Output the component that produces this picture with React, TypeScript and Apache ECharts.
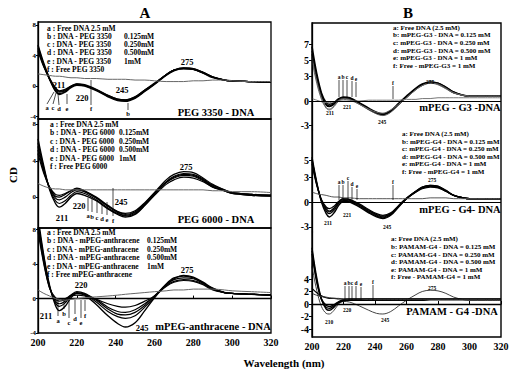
import React, { useEffect, useRef } from 'react';
import * as echarts from 'echarts';

const FONT = '"Liberation Serif", "Times New Roman", serif';

// shared wavelength grid (nm)
const wavelengths = [200, 203, 206, 209, 211, 214, 217, 220, 224, 230, 236, 241, 245, 250, 255, 260, 266, 270, 275, 280, 285, 290, 296, 300, 310, 320];

// Panel A1 : PEG 3350 - DNA
const a1_a = [5.4, 3.0, 1.0, -0.6, -1.0, -0.7, -0.1, 0.2, 0.1, -0.5, -1.3, -1.8, -1.9, -1.5, -0.6, 0.3, 1.5, 2.1, 2.4, 2.3, 1.8, 1.2, 0.8, 0.7, 0.6, 0.5];
const a1_b = [5.2, 2.8, 0.8, -0.7, -1.1, -0.8, -0.2, 0.1, 0.0, -0.6, -1.4, -1.9, -2.0, -1.6, -0.7, 0.2, 1.4, 2.0, 2.3, 2.2, 1.7, 1.1, 0.8, 0.7, 0.6, 0.5];
const a1_c = [5.0, 2.7, 0.9, -0.4, -0.8, -0.6, -0.1, 0.2, 0.1, -0.5, -1.3, -1.8, -1.9, -1.5, -0.6, 0.3, 1.5, 2.1, 2.4, 2.3, 1.8, 1.2, 0.8, 0.7, 0.6, 0.5];
const a1_d = [4.8, 2.6, 0.9, -0.3, -0.7, -0.5, 0.0, 0.3, 0.1, -0.5, -1.2, -1.7, -1.8, -1.4, -0.5, 0.3, 1.5, 2.1, 2.3, 2.2, 1.8, 1.2, 0.8, 0.7, 0.6, 0.5];
const a1_e = [4.6, 2.5, 1.0, -0.2, -0.6, -0.4, 0.0, 0.3, 0.2, -0.4, -1.2, -1.7, -1.8, -1.4, -0.5, 0.4, 1.5, 2.1, 2.3, 2.2, 1.7, 1.2, 0.8, 0.7, 0.6, 0.5];
const a1_f = [1.6, 1.5, 1.4, 1.3, 1.3, 1.2, 1.1, 1.1, 1.0, 1.0, 0.9, 0.9, 0.9, 0.8, 0.8, 0.7, 0.6, 0.6, 0.6, 0.7, 0.7, 0.8, 0.8, 0.7, 0.6, 0.6];

// Panel A2 : PEG 6000 - DNA
const a2_a = [6.4, 3.4, 0.8, -0.7, -1.1, -0.7, 0.0, 0.4, 0.2, -0.4, -1.3, -1.9, -2.2, -1.9, -0.9, 0.3, 1.6, 2.2, 2.5, 2.4, 1.9, 1.2, 0.7, 0.5, 0.3, 0.2];
const a2_b = [6.0, 3.2, 0.9, -0.4, -0.7, -0.4, 0.2, 0.6, 0.4, -0.3, -1.2, -1.8, -2.0, -1.7, -0.8, 0.4, 1.7, 2.3, 2.6, 2.5, 2.0, 1.3, 0.8, 0.5, 0.3, 0.2];
const a2_c = [5.6, 3.0, 1.0, -0.1, -0.3, 0.0, 0.5, 0.8, 0.6, -0.1, -1.0, -1.6, -1.9, -1.6, -0.7, 0.5, 1.9, 2.5, 2.8, 2.7, 2.1, 1.4, 0.8, 0.5, 0.3, 0.2];
const a2_d = [5.2, 2.8, 1.0, 0.1, 0.0, 0.3, 0.7, 1.0, 0.7, 0.0, -0.9, -1.6, -1.8, -1.5, -0.6, 0.5, 1.6, 2.1, 2.4, 2.3, 1.8, 1.1, 0.7, 0.4, 0.2, 0.1];
const a2_e = [4.8, 2.6, 1.1, 0.3, 0.2, 0.4, 0.7, 0.9, 0.6, -0.1, -1.0, -1.7, -2.1, -1.8, -0.9, 0.2, 1.4, 1.9, 2.2, 2.1, 1.7, 1.1, 0.7, 0.4, 0.2, 0.1];
const a2_f = [1.5, 1.2, 1.0, 0.9, 0.9, 0.8, 0.8, 0.8, 0.8, 0.8, 0.8, 0.8, 0.8, 0.8, 0.8, 0.8, 0.8, 0.8, 0.8, 0.8, 0.8, 0.7, 0.7, 0.6, 0.6, 0.5];

// Panel A3 : mPEG-anthracene - DNA
const a3_a = [9.5, 5.0, 1.5, -0.8, -1.4, -0.9, 0.1, 0.6, 0.4, -0.7, -2.0, -2.9, -3.3, -2.8, -1.4, 0.1, 1.6, 2.3, 2.7, 2.5, 1.9, 1.2, 0.7, 0.6, 0.5, 0.4];
const a3_b = [9.0, 4.8, 1.4, -0.5, -0.9, -0.5, 0.3, 0.7, 0.5, -0.4, -1.5, -2.1, -2.3, -2.0, -1.0, 0.2, 1.7, 2.4, 2.6, 2.4, 1.8, 1.2, 0.7, 0.6, 0.5, 0.4];
const a3_c = [8.6, 4.5, 1.3, -0.3, -0.6, -0.3, 0.4, 0.8, 0.6, -0.2, -1.2, -1.8, -1.9, -1.6, -0.8, 0.3, 1.6, 2.2, 2.4, 2.3, 1.8, 1.1, 0.7, 0.6, 0.5, 0.4];
const a3_d = [8.2, 4.2, 1.2, -0.1, -0.3, -0.1, 0.4, 0.6, 0.5, -0.1, -1.0, -1.5, -1.6, -1.3, -0.6, 0.3, 1.5, 2.0, 2.2, 2.1, 1.7, 1.1, 0.7, 0.6, 0.5, 0.4];
const a3_e = [7.8, 4.0, 1.2, 0.1, -0.1, 0.0, 0.3, 0.4, 0.3, -0.1, -0.6, -0.9, -1.0, -0.8, -0.3, 0.3, 1.4, 1.9, 2.1, 2.0, 1.6, 1.0, 0.7, 0.6, 0.5, 0.4];
const a3_f = [1.0, 0.6, 0.3, 0.0, -0.1, -0.2, -0.1, 0.0, 0.1, 0.2, 0.3, 0.4, 0.5, 0.6, 0.7, 0.8, 0.9, 1.0, 1.0, 1.1, 1.1, 1.1, 1.0, 0.9, 0.8, 0.7];

// Panel B1 : mPEG - G3 - DNA
const b1_a = [6.7, 3.4, 1.0, -0.2, -0.4, -0.2, 0.3, 0.5, 0.4, -0.2, -0.9, -1.4, -1.6, -1.2, -0.3, 0.6, 1.6, 2.1, 2.35, 2.2, 1.7, 1.1, 0.7, 0.6, 0.6, 0.6];
const b1_b = [6.2, 3.1, 0.8, -0.4, -0.6, -0.3, 0.2, 0.4, 0.3, -0.3, -1.0, -1.5, -1.7, -1.3, -0.4, 0.5, 1.5, 2.0, 2.3, 2.2, 1.7, 1.1, 0.7, 0.6, 0.6, 0.6];
const b1_c = [5.8, 2.8, 0.6, -0.5, -0.7, -0.4, 0.2, 0.4, 0.3, -0.3, -1.0, -1.5, -1.6, -1.2, -0.4, 0.5, 1.5, 2.0, 2.3, 2.1, 1.6, 1.0, 0.7, 0.6, 0.6, 0.6];
const b1_d = [5.4, 2.5, 0.4, -0.8, -1.0, -0.6, 0.1, 0.3, 0.2, -0.4, -1.1, -1.6, -1.8, -1.4, -0.5, 0.4, 1.4, 1.9, 2.2, 2.1, 1.6, 1.0, 0.7, 0.6, 0.6, 0.6];
const b1_e = [5.0, 2.2, 0.2, -0.9, -1.1, -0.7, 0.0, 0.2, 0.1, -0.4, -1.0, -1.4, -1.5, -1.1, -0.4, 0.4, 1.4, 1.9, 2.2, 2.0, 1.5, 1.0, 0.7, 0.6, 0.6, 0.6];
const b1_f = [0.3, 0.1, -0.1, -0.2, -0.2, -0.1, 0.0, 0.0, 0.0, 0.0, 0.1, 0.1, 0.1, 0.1, 0.1, 0.2, 0.2, 0.3, 0.3, 0.4, 0.4, 0.4, 0.4, 0.4, 0.4, 0.4];

// Panel B2 : mPEG - G4 - DNA
const b2_a = [5.4, 2.4, 0.0, -1.4, -1.8, -1.3, -0.4, 0.1, 0.0, -0.6, -1.3, -1.8, -2.0, -1.6, -0.6, 0.4, 1.3, 1.8, 2.0, 1.9, 1.4, 0.8, 0.5, 0.4, 0.4, 0.4];
const b2_b = [5.2, 2.3, 0.1, -1.1, -1.4, -1.0, -0.2, 0.2, 0.1, -0.5, -1.2, -1.7, -1.9, -1.5, -0.5, 0.4, 1.3, 1.8, 2.0, 1.9, 1.4, 0.8, 0.5, 0.4, 0.4, 0.4];
const b2_c = [5.0, 2.2, 0.2, -0.8, -1.1, -0.7, 0.0, 0.4, 0.3, -0.3, -1.0, -1.5, -1.7, -1.4, -0.5, 0.4, 1.2, 1.7, 1.9, 1.8, 1.3, 0.8, 0.5, 0.4, 0.4, 0.4];
const b2_d = [4.8, 2.1, 0.3, -0.6, -0.8, -0.5, 0.1, 0.4, 0.3, -0.2, -0.9, -1.4, -1.6, -1.3, -0.4, 0.5, 1.3, 1.7, 1.9, 1.8, 1.3, 0.8, 0.5, 0.4, 0.4, 0.4];
const b2_e = [4.6, 2.0, 0.2, -0.9, -1.2, -0.8, -0.1, 0.3, 0.2, -0.4, -1.1, -1.6, -1.8, -1.4, -0.5, 0.4, 1.2, 1.6, 1.8, 1.7, 1.3, 0.8, 0.5, 0.4, 0.4, 0.4];
const b2_f = [1.2, 1.0, 0.9, 0.8, 0.7, 0.6, 0.6, 0.5, 0.5, 0.4, 0.4, 0.4, 0.4, 0.4, 0.4, 0.4, 0.4, 0.4, 0.5, 0.5, 0.5, 0.4, 0.4, 0.4, 0.4, 0.4];

// Panel B3 : PAMAM - G4 - DNA
const b3_a = [6.0, 2.2, -0.4, -1.5, -1.6, -1.0, 0.0, 0.4, 0.3, -0.3, -1.0, -1.5, -1.6, -1.2, -0.3, 0.6, 1.5, 2.0, 2.2, 2.1, 1.7, 1.1, 0.7, 0.6, 0.6, 0.6];
const b3_b = [9.0, 4.2, 0.8, -0.8, -1.0, -0.5, 0.2, 0.5, 0.6, 0.6, 0.6, 0.6, 0.6, 0.6, 0.6, 0.6, 0.6, 0.6, 0.7, 0.7, 0.7, 0.7, 0.7, 0.7, 0.7, 0.7];
const b3_c = [8.5, 3.8, 0.7, -0.5, -0.7, -0.3, 0.3, 0.6, 0.7, 0.7, 0.7, 0.7, 0.7, 0.7, 0.7, 0.7, 0.7, 0.7, 0.7, 0.7, 0.7, 0.7, 0.7, 0.7, 0.7, 0.7];
const b3_d = [8.0, 3.5, 0.8, -0.2, -0.4, -0.1, 0.4, 0.7, 0.8, 0.8, 0.8, 0.8, 0.8, 0.8, 0.8, 0.8, 0.8, 0.8, 0.8, 0.8, 0.8, 0.8, 0.8, 0.8, 0.8, 0.8];
const b3_e = [2.5, 1.8, 1.3, 1.0, 0.9, 0.9, 0.8, 0.8, 0.8, 0.8, 0.8, 0.8, 0.8, 0.8, 0.8, 0.8, 0.8, 0.8, 0.8, 0.8, 0.8, 0.8, 0.8, 0.8, 0.8, 0.8];
const b3_f = [1.7, 1.4, 1.2, 1.1, 1.0, 0.9, 0.9, 0.8, 0.8, 0.8, 0.7, 0.7, 0.7, 0.7, 0.7, 0.7, 0.7, 0.7, 0.7, 0.7, 0.7, 0.7, 0.7, 0.7, 0.7, 0.7];

const xTicks = [200, 220, 240, 260, 280, 300, 320];
const yTicksA1 = [-4, 0, 4, 8];
const yTicksA2 = [0, 4, 8];
const yTicksA3 = [-4, 0, 4, 8];
const yTicksB1 = [-3, 0, 3, 5, 7];
const yTicksB2 = [-3, 0, 3, 5];
const yTicksB3 = [-4, -2, 0, 2, 4];

const legendA1 = [['a : Free DNA 2.5 mM', ''], ['b : DNA - PEG 3350', '0.125mM'], ['c : DNA - PEG 3350', '0.250mM'], ['d : DNA - PEG 3350', '0.500mM'], ['e : DNA - PEG 3350', '1mM'], ['f : Free PEG 3350', '']];
const legendA2 = [['a : Free DNA 2.5 mM', ''], ['b : DNA - PEG 6000', '0.125mM'], ['c : DNA - PEG 6000', '0.250mM'], ['d : DNA - PEG 6000', '0.500mM'], ['e : DNA - PEG 6000', '1mM'], ['f : Free PEG 6000', '']];
const legendA3 = [['a : Free DNA 2.5 mM', ''], ['b : DNA - mPEG-anthracene', '0.125mM'], ['c : DNA - mPEG-anthracene', '0.250mM'], ['d : DNA - mPEG-anthracene', '0.500mM'], ['e : DNA - mPEG-anthracene', '1mM'], ['f : Free mPEG-anthracene', '']];
const legendB1 = ['a: Free DNA (2.5 mM)', 'b: mPEG-G3 - DNA = 0.125 mM', 'c: mPEG-G3 - DNA = 0.250 mM', 'd: mPEG-G3 - DNA = 0.500 mM', 'e: mPEG-G3 - DNA = 1 mM', 'f: Free - mPEG-G3 = 1 mM'];
const legendB2 = ['a: Free DNA (2.5 mM)', 'b: mPEG-G4 - DNA = 0.125 mM', 'c: mPEG-G4 - DNA = 0.250 mM', 'd: mPEG-G4 - DNA = 0.500 mM', 'e: mPEG-G4 - DNA = 1 mM', 'f: Free - mPEG-G4 = 1 mM'];
const legendB3 = ['a: Free DNA (2.5 mM)', 'b: PAMAM-G4 - DNA = 0.125 mM', 'c: PAMAM-G4 - DNA = 0.250 mM', 'd: PAMAM-G4 - DNA = 0.500 mM', 'e: PAMAM-G4 - DNA = 1 mM', 'f: Free - PAMAM-G4 = 1 mM'];

const T = (text: string, x: number, y: number, size: number, align = 'center', extra: any = {}) => ({
  type: 'text', x, y, z: 10, ...extra,
  style: { text, fontSize: size, fontWeight: 'bold', fontFamily: FONT, fill: '#000', align, verticalAlign: 'middle' },
});
const L = (x1: number, y1: number, x2: number, y2: number, w = 0.7) => ({
  type: 'line', z: 10, shape: { x1, y1, x2, y2 }, style: { stroke: '#000', lineWidth: w },
});

function buildSeries(idx: number, sets: number[][], colors: string[], widths: number[], zero = false) {
  return sets.map((vals, k) => ({
    type: 'line', xAxisIndex: idx, yAxisIndex: idx, smooth: 0.35, symbol: 'none',
    lineStyle: { color: colors[k], width: widths[k] },
    data: wavelengths.map((w, i) => [w, vals[i]]),
    ...(zero && k === sets.length - 1
      ? { markLine: { silent: true, symbol: 'none', label: { show: false }, lineStyle: { color: '#000', width: 1, type: 'solid' }, data: [{ yAxis: 0 }] } }
      : {}),
  }));
}

export default function App() {
  const ref = useRef<HTMLDivElement>(null);
  useEffect(() => {
    const chart = echarts.init(ref.current!, null, { renderer: 'svg' });
    const A = { left: 38, width: 233 };
    const B = { left: 312, width: 189 };
    const grids = [
      { ...A, top: 22, height: 97, show: true, borderColor: '#000', borderWidth: 1.3 },
      { ...A, top: 119, height: 109, show: true, borderColor: '#000', borderWidth: 1.3 },
      { ...A, top: 228, height: 105, show: true, borderColor: '#000', borderWidth: 1.3 },
      { ...B, top: 23, height: 107 },
      { ...B, top: 130, height: 102 },
      { ...B, top: 232, height: 105 },
    ];
    const yRanges = [[-4.3, 8.4], [-3.4, 8.6], [-4, 8.2], [-3.58, 9.63], [-3.61, 8.67], [-5.28, 11.52]];
    const yTicks = [yTicksA1, yTicksA2, yTicksA3, yTicksB1, yTicksB2, yTicksB3];
    const xAxis = grids.map((g, i) => ({
      type: 'value', gridIndex: i, min: 200, max: 320,
      axisLine: { show: i === 2 || i === 5, lineStyle: { color: '#000', width: 1.3 } },
      axisTick: { show: i === 2 || i === 5, inside: true, length: 3, customValues: xTicks, lineStyle: { color: '#000' } },
      axisLabel: { show: i === 2 || i === 5, customValues: xTicks, color: '#000', fontSize: 10, fontWeight: 'bold', fontFamily: FONT, margin: 4 },
      splitLine: { show: false },
    }));
    const yAxis = grids.map((g, i) => ({
      type: 'value', gridIndex: i, min: yRanges[i][0], max: yRanges[i][1],
      axisLine: { show: true, lineStyle: { color: '#000', width: 1.3 } },
      axisTick: { show: true, length: i < 3 ? 2 : 3, customValues: yTicks[i], lineStyle: { color: '#000' } },
      axisLabel: { customValues: yTicks[i], color: '#000', fontSize: i < 3 ? 7 : 10, fontWeight: 'bold', fontFamily: FONT, margin: i < 3 ? 2 : 3 },
      splitLine: { show: false },
    }));
    const blk = ['#000', '#000', '#000', '#000', '#000', '#666'];
    const wA = [1.4, 1.2, 1.2, 1.2, 1.2, 1];
    const series = [
      ...buildSeries(0, [a1_a, a1_b, a1_c, a1_d, a1_e, a1_f], blk, wA),
      ...buildSeries(1, [a2_a, a2_b, a2_c, a2_d, a2_e, a2_f], blk, wA),
      ...buildSeries(2, [a3_a, a3_b, a3_c, a3_d, a3_e, a3_f], blk, wA),
      ...buildSeries(3, [b1_a, b1_b, b1_c, b1_d, b1_e, b1_f], ['#000', '#000', '#000', '#555', '#666', '#777'], [1.6, 1.3, 1.3, 1, 1, 1], true),
      ...buildSeries(4, [b2_a, b2_b, b2_c, b2_d, b2_e, b2_f], ['#000', '#000', '#000', '#000', '#000', '#555'], [1.4, 1.2, 1.2, 1.2, 1.2, 1], true),
      ...buildSeries(5, [b3_a, b3_b, b3_c, b3_d, b3_e, b3_f], ['#444', '#000', '#000', '#000', '#000', '#333'], [1, 1.4, 1.4, 1.4, 1.2, 1], true),
    ];

    const g: any[] = [];
    g.push({ type: 'rect', z: 10, shape: { x: 312, y: 23, width: 189, height: 314 }, style: { fill: 'none', stroke: '#000', lineWidth: 1.4 } });
    g.push(T('A', 145, 13, 15), T('B', 408, 13, 15));
    g.push(T('CD', 13, 175, 11, 'center', { rotation: Math.PI / 2 }));
    g.push(T('Wavelength (nm)', 284, 363, 11));
    // A legends
    const legA = (rows: string[][], x: number, ys: number[], cx: number) => rows.forEach((r, i) => {
      g.push(T(r[0], x, ys[i], 7.5, 'left'));
      if (r[1]) g.push(T(r[1], cx, ys[i], 7.5, 'left'));
    });
    legA(legendA1, 47, [28, 36, 44, 52, 61, 69], 124);
    legA(legendA2, 50, [124, 132, 141, 149, 158, 166], 119);
    legA(legendA3, 47, [232, 240, 249, 257, 266, 274], 147);
    const legB = (rows: string[], x: number, ys: number[]) => rows.forEach((r, i) => g.push(T(r, x, ys[i], 7, 'left')));
    legB(legendB1, 393, [28, 35, 43, 51, 58, 66]);
    legB(legendB2, 402, [134, 142, 149, 157, 164, 172]);
    legB(legendB3, 391, [239, 247, 255, 262, 270, 277]);
    // panel titles
    g.push(T('PEG 3350 - DNA', 216, 112, 10.5), T('PEG 6000 - DNA', 216, 219, 10.5), T('mPEG-anthracene - DNA', 213, 326, 10.5));
    g.push(T('mPEG - G3 -DNA', 460, 107, 10.5), T('mPEG - G4- DNA', 460, 209, 10.5), T('PAMAM - G4 -DNA', 452, 311, 10.5));
    // peak labels A
    [['211', 59, 85], ['220', 82, 98], ['245', 122, 90], ['275', 187, 62],
     ['211', 62, 218], ['220', 79, 206], ['245', 121, 202], ['275', 186, 167],
     ['211', 46, 316], ['220', 81, 285], ['245', 142, 328], ['275', 187, 270]].forEach((p: any) => g.push(T(p[0], p[1], p[2], 8.5)));
    // peak labels B
    [['211', 330, 113], ['221', 347, 107], ['245', 382, 122], ['275', 430, 82],
     ['211', 328, 223], ['221', 347, 215], ['245', 387, 227], ['275', 432, 180],
     ['210', 329, 322], ['220', 347, 310], ['245', 385, 320], ['275', 432, 288]].forEach((p: any) => g.push(T(p[0], p[1], p[2], 5.5)));
    // pointer letters & lines A1
    [['a', 47, 107], ['c', 53, 107], ['d', 59, 108], ['e', 67, 108], ['f', 91, 108], ['b', 128, 113]].forEach((p: any) => g.push(T(p[0], p[1], p[2], 6.5)));
    g.push(L(47, 104, 54, 92), L(53, 104, 56, 93), L(59, 105, 58, 94), L(67, 104, 67, 94), L(91, 105, 91, 80), L(128, 110, 128, 103));
    // A2
    [['a', 88, 215], ['b', 92, 216], ['c', 97, 217], ['d', 102, 218], ['e', 107, 219], ['f', 113, 220]].forEach((p: any) => {
      g.push(T(p[0], p[1], p[2], 6.5));
      g.push(L(p[1], p[2] - 4, p[1], p[0] === 'f' ? 188 : 198 + (p[2] - 215)));
    });
    // A3
    [['a', 58, 320], ['b', 64, 313], ['c', 69, 322], ['d', 75, 318], ['e', 81, 322], ['f', 85, 315]].forEach((p: any) => {
      g.push(T(p[0], p[1], p[2], 6.5));
      g.push(L(p[1], p[2] - 4, p[1], 300));
    });
    // B1
    [['a', 339, 77], ['b', 343, 77], ['c', 347, 77], ['d', 352, 78], ['e', 356, 79]].forEach((p: any) => {
      g.push(T(p[0], p[1], p[2], 5.5));
      g.push(L(p[1], p[2] + 3, p[1], 97));
    });
    g.push(T('f', 393, 83, 5.5), L(393, 86, 393, 99));
    // B2
    [['a', 339, 182], ['b', 343, 182], ['c', 348, 178], ['d', 352, 184], ['e', 357, 186]].forEach((p: any) => {
      g.push(T(p[0], p[1], p[2], 5.5));
      g.push(L(p[1], p[2] + 3, p[1], 200));
    });
    g.push(T('f', 393, 182, 5.5), L(393, 185, 393, 200));
    // B3
    [['a', 345, 283], ['b', 349, 283], ['c', 352, 283], ['d', 356, 283], ['e', 361, 284]].forEach((p: any) => {
      g.push(T(p[0], p[1], p[2], 5.5));
      g.push(L(p[1], p[2] + 3, p[1], 300));
    });
    g.push(T('f', 373, 282, 5.5), L(373, 285, 373, 300));

    chart.setOption({
      animation: false,
      backgroundColor: '#fff',
      grid: grids,
      xAxis,
      yAxis,
      series,
      graphic: g,
    });
    return () => chart.dispose();
  }, []);
  return <div ref={ref} style={{ position: 'fixed', left: 0, top: 0, width: 512, height: 377 }} />;
}
